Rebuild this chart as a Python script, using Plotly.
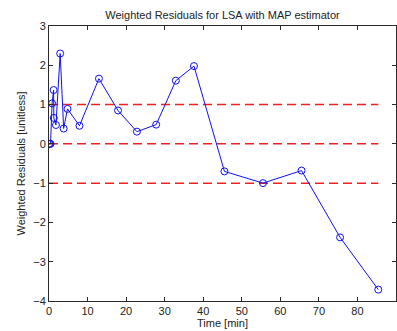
import plotly.graph_objects as go

# Sample times [min] and weighted residuals of the LSA fit (MAP estimator)
time_min = [0.0, 0.2, 0.4, 0.8, 1.2, 1.25, 1.8, 2.9, 3.8, 4.8, 7.9,
            12.95, 17.9, 22.8, 27.8, 32.9, 37.6, 45.5, 55.5, 65.5, 75.5, 85.4]
residuals = [0.0, 0.0, 0.0, 1.03, 1.37, 0.66, 0.48, 2.30, 0.39, 0.89, 0.46,
             1.66, 0.85, 0.31, 0.49, 1.61, 1.98, -0.70, -1.00, -0.68, -2.38, -3.71]

# Reference bands at -1, 0, +1
band_levels = [1, 0, -1]

x_ticks = [0, 10, 20, 30, 40, 50, 60, 70, 80, 90]
y_ticks = [-4, -3, -2, -1, 0, 1, 2, 3]

font_family = "Liberation Sans, Arial, sans-serif"
axis_color = "#2a2a2a"
text_color = "#222222"

fig = go.Figure()

for lvl in band_levels:
    fig.add_trace(go.Scatter(
        x=[time_min[0], time_min[-1]], y=[lvl, lvl],
        mode="lines",
        line=dict(color="#f02020", width=1.5, dash="9px,5px"),
        hoverinfo="skip", showlegend=False,
    ))

fig.add_trace(go.Scatter(
    x=time_min, y=residuals,
    mode="lines+markers",
    line=dict(color="#1010f0", width=1),
    marker=dict(symbol="circle-open", size=7, color="#1010f0", line=dict(width=1)),
    showlegend=False,
))

axis_common = dict(
    showline=True, linecolor=axis_color, linewidth=1, mirror="ticks",
    ticks="inside", ticklen=4, tickwidth=1, tickcolor=axis_color,
    showgrid=False, zeroline=False,
    tickfont=dict(family=font_family, size=11, color=text_color),
)

fig.update_layout(
    width=397, height=331,
    margin=dict(l=49, r=1, t=26, b=30),
    paper_bgcolor="white", plot_bgcolor="white",
    title=dict(
        text="Weighted Residuals for LSA with MAP estimator",
        font=dict(family=font_family, size=11, color=text_color),
        x=(49 + 396) / 2 / 397, xanchor="center",
        y=1 - 15 / 331, yanchor="middle",
    ),
    xaxis=dict(
        range=[0, 90], tickvals=x_ticks,
        title=dict(text="Time [min]", standoff=3,
                   font=dict(family=font_family, size=11, color=text_color)),
        **axis_common,
    ),
    yaxis=dict(
        range=[-4, 3], tickvals=y_ticks,
        title=dict(text="Weighted Residuals [unitless]", standoff=5,
                   font=dict(family=font_family, size=11, color=text_color)),
        **axis_common,
    ),
)

fig.write_html("out.html")
